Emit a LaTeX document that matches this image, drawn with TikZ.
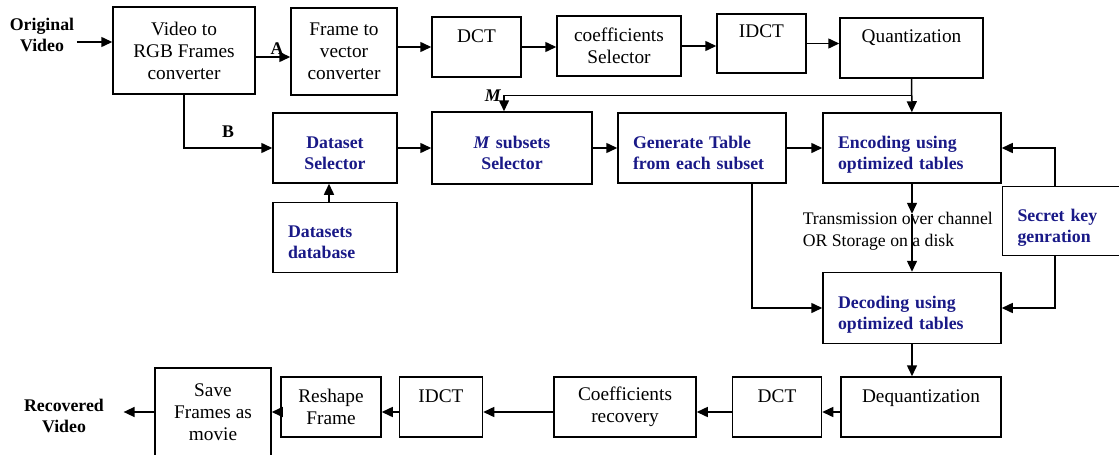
\documentclass[tikz,border=0pt]{standalone}
\usepackage{fontspec}
\setmainfont{Liberation Serif}
\usetikzlibrary{positioning,arrows.meta,calc}
\definecolor{navyblue}{RGB}{25,25,135}
\newcommand{\boxfont}{\fontsize{19.3}{22}\selectfont}
\newcommand{\boldfont}{\fontsize{17.8}{21}\selectfont\bfseries}
\newcommand{\notefont}{\fontsize{17.7}{22}\selectfont}

\begin{document}
\begin{tikzpicture}[x=1pt, y=-1pt, line width=1.5pt, >={Triangle[length=11pt,width=10pt]},
  every node/.style={font=\boxfont, inner sep=2pt},
  blk/.style={draw, align=center},
  hl/.style={draw, font=\boldfont, text=navyblue, text height=25pt, text depth=25pt, inner xsep=15pt},
  lft/.style={hl, align=left, text width=#1},
  ctr/.style={hl, align=center, text width=#1}]
  \useasboundingbox (0,0) rectangle (1119,455);
  \clip (0,0) rectangle (1119,455);

  % top row
  \node[font=\boldfont, align=center] (orig) at (42,35) {Original\\Video};
  \node[blk, minimum width=142pt, minimum height=87pt] (v2rgb) at (184,50.5) {Video to\\RGB Frames\\converter};
  \node[blk, minimum width=106pt, minimum height=87pt] (f2v) at (344,51.5) {Frame to\\vector\\converter};
  \node[blk, minimum width=89pt, minimum height=60pt] (dcta) at (476.5,47) {DCT\\\mbox{}};
  \node[blk, minimum width=124pt, minimum height=60pt] (coef) at (619,46) {coefficients\\Selector};
  \node[blk, minimum width=89pt, minimum height=59pt] (idcta) at (761.5,43.5) {IDCT\\[2pt]\mbox{}};
  \node[blk, minimum width=143pt, minimum height=60pt] (quant) at (911.5,48) {Quantization\\[2pt]\mbox{}};

  % middle
  \node[ctr=94pt, minimum height=70pt] (dsel) at (335,148) {Dataset\\Selector};
  \node[lft=94pt, minimum height=70pt, below=18pt of dsel] (ddb) {Datasets\\database};
  \node[ctr=130pt, minimum height=72pt] (msub) at (512,148) {\textit{M} subsets\\Selector};
  \node[lft=138pt, minimum height=70pt] (gen) at (702,148) {Generate Table\\from each subset};
  \node[lft=148pt, minimum height=70pt] (enc) at (912,148) {Encoding using\\optimized tables};
  \node[lft=129pt, minimum height=69pt, anchor=north west, yshift=-2pt] (secret) at (enc.south east) {Secret key\\genration};
  \node[lft=148pt, minimum height=71pt, below=88pt of enc] (dec) {Decoding using\\optimized tables};
  \node[font=\notefont, align=left, anchor=west] (chan) at (800,231) {Transmission over channel\\OR Storage on a disk};

  % bottom row
  \node[blk, minimum width=160pt, minimum height=60pt] (deq) at (921,407) {Dequantization\\\mbox{}};
  \node[blk, minimum width=89pt, minimum height=60pt, left=18pt of deq] (dctb) {DCT\\\mbox{}};
  \node[blk, minimum width=142pt, minimum height=60pt, left=35pt of dctb] (crec) {Coefficients\\recovery};
  \node[blk, minimum width=83pt, minimum height=60pt, left=70pt of crec] (idctb) {IDCT\\\mbox{}};
  \node[blk, minimum width=100pt, minimum height=60pt, left=17pt of idctb] (resh) {Reshape\\Frame};
  \node[blk, minimum width=116pt, minimum height=88pt] (save) at (213,412) {Save\\Frames as\\movie};
  \node[font=\boldfont, align=center, inner xsep=19pt] (rec) at (64,415.5) {Recovered\\Video};

  \draw[->] ([yshift=-7pt]orig.east) -- ([yshift=-7pt]orig.east -| v2rgb.west);
  \draw[->] ([yshift=-6.5pt]v2rgb.east) -- ([yshift=-6.5pt]v2rgb.east -| f2v.west) node[pos=0.62, above, font=\boldfont] (lblA) {A};
  \draw[->] (v2rgb) |- (dsel) node[pos=0.75, above=8pt, font=\boldfont] (lblB) {B};
  \draw[->] (f2v.east |- dcta) -- (dcta);
  \draw[->] (dcta.east) -- (dcta.east -| coef.west);
  \draw[->] (coef.east) -- (coef.east -| idcta.west);
  \draw[->] (idcta.east) -- (idcta.east -| quant.west);
  \draw[->] ([xshift=-6pt]ddb.north) -- ([xshift=-6pt]dsel.south);
  \draw[->] (dsel) -- (msub);
  \draw[->] (msub) -- (gen);
  \draw[->] (gen) -- (enc);
  \draw[->] (quant) -- (enc);
  \coordinate (mtap) at ($(quant.south)!0.5!(enc.north)$);
  \draw[->] (mtap) -| ([xshift=-8pt]msub.north) node[pos=0.5, left, font=\boldfont] (lblM) {\textit{M}};
  \coordinate (tx) at ([yshift=-30pt]enc.south);
  \draw[->] (enc) -- (tx);
  \draw[->] (tx) -- (dec);
  \draw[->] ([xshift=50pt]gen.south) |- (dec);
  \draw[->] ([xshift=53pt]secret.north west) |- (enc);
  \draw[->] ([xshift=53pt]secret.south west) |- (dec);
  \draw[->] (dec) -- (dec |- deq.north);
  \draw[->] ([yshift=-5pt]deq.west) -- ([yshift=-5pt]deq.west -| dctb.east);
  \draw[->] ([yshift=-5pt]dctb.west) -- ([yshift=-5pt]dctb.west -| crec.east);
  \draw[->] ([yshift=-5pt]crec.west) -- ([yshift=-5pt]crec.west -| idctb.east);
  \draw[->] ([yshift=-5pt]idctb.west) -- ([yshift=-5pt]idctb.west -| resh.east);
  \draw[->] ([yshift=-5pt]resh.west) -- ([yshift=-5pt]resh.west -| save.east);
  \draw[->] (save.west) -- (save.west -| rec.east);
\end{tikzpicture}
\end{document}
